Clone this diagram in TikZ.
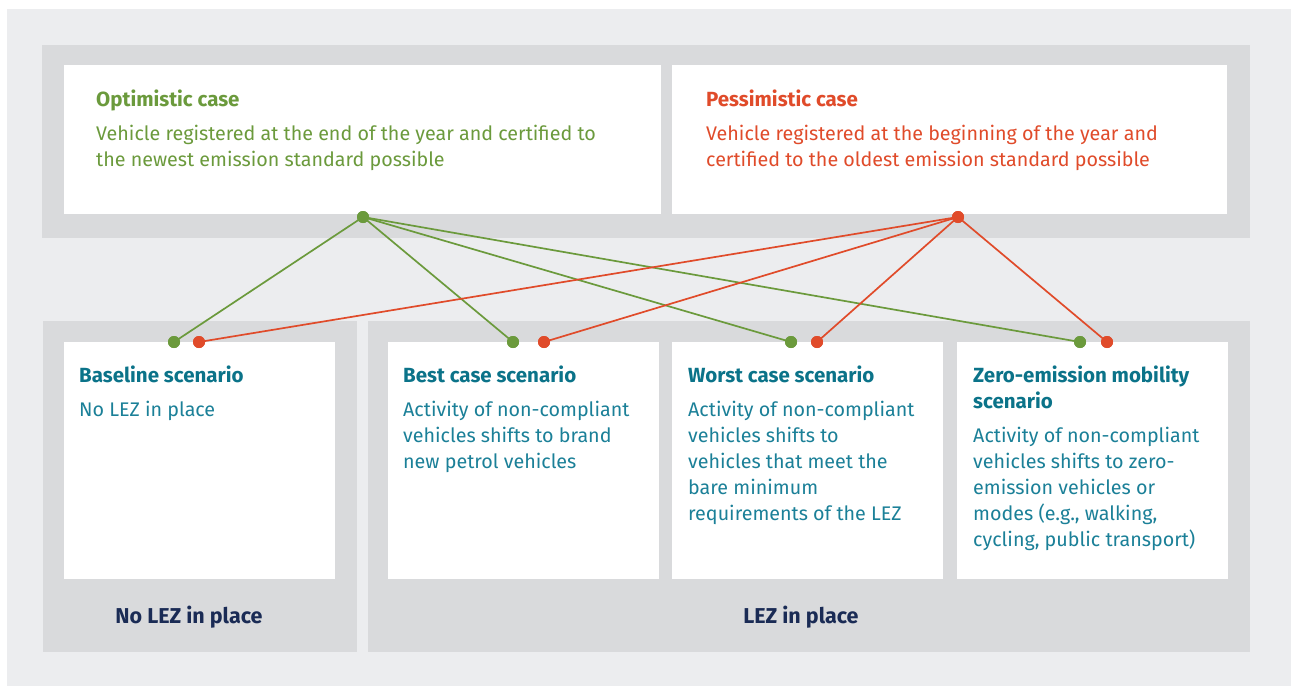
\documentclass[tikz,border=0pt]{standalone}
\usepackage{fontspec}
\setmainfont{Fira Sans}
\definecolor{bglight}{HTML}{ECEDEF}
\definecolor{band}{HTML}{D9DADC}
\definecolor{optgreen}{HTML}{6B9A3C}
\definecolor{pesred}{HTML}{E04B2A}
\definecolor{tealhead}{HTML}{0B7389}
\definecolor{tealbody}{HTML}{1B8098}
\definecolor{navy}{HTML}{1A2B55}
\tikzset{
  panel/.style={fill=white, draw=none},
  txt/.style={anchor=north west, inner sep=0pt, align=left, font=\fontsize{19.7}{26}\selectfont},
  headtxt/.style={txt, font=\fontsize{20.5}{26}\selectfont\bfseries},
  dotg/.style={circle, fill=optgreen, inner sep=0pt, minimum size=12pt},
  dotr/.style={circle, fill=pesred, inner sep=0pt, minimum size=12pt},
  gline/.style={draw=optgreen, line width=1.7pt},
  rline/.style={draw=pesred, line width=1.7pt},
  grouplabel/.style={anchor=base, inner sep=0pt, text=navy, font=\fontsize{21.5}{24}\selectfont\bfseries}
}
\begin{document}
\begin{tikzpicture}[x=1pt,y=-1pt]
\useasboundingbox (0,0) rectangle (1298,688);
\fill[white] (0,0) rectangle (1298,688);
\fill[bglight] (7,9) rectangle (1291,686);
% bands
\fill[band] (42,45) rectangle (1250,238);
\fill[band] (43,321) rectangle (357,652);
\fill[band] (368,321) rectangle (1250,652);
% white panels
\fill[panel] (64,65) rectangle (661,214);
\fill[panel] (672,65) rectangle (1227,214);
\fill[panel] (64,342) rectangle (335,579);
\fill[panel] (388,342) rectangle (659,579);
\fill[panel] (672,342) rectangle (943,579);
\fill[panel] (957,342) rectangle (1228,579);
% top texts
\node[headtxt, text=optgreen] (opth) at (96,89.5) {Optimistic case};
\node[txt, text=optgreen] (optb) at (96,124.5) {Vehicle registered at the end of the year and certified to\\the newest emission standard possible};
\node[headtxt, text=pesred] (pesh) at (706,89.5) {Pessimistic case};
\node[txt, text=pesred] (pesb) at (706,124.5) {Vehicle registered at the beginning of the year and\\certified to the oldest emission standard possible};
% bottom texts
\node[headtxt, text=tealhead] (baseh) at (79,366) {Baseline scenario};
\node[txt, text=tealbody] (baseb) at (79,401) {No LEZ in place};
\node[headtxt, text=tealhead] (besth) at (403,366) {Best case scenario};
\node[txt, text=tealbody] (bestb) at (403,401) {Activity of non-compliant\\vehicles shifts to brand\\new petrol vehicles};
\node[headtxt, text=tealhead] (worsth) at (688,366) {Worst case scenario};
\node[txt, text=tealbody] (worstb) at (688,401) {Activity of non-compliant\\vehicles shifts to\\vehicles that meet the\\bare minimum\\requirements of the LEZ};
\node[headtxt, text=tealhead] (zeroh) at (973,366) {Zero-emission mobility\\scenario};
\node[txt, text=tealbody] (zerob) at (973,427) {Activity of non-compliant\\vehicles shifts to zero-\\emission vehicles or\\modes (e.g., walking,\\cycling, public transport)};
% group labels
\node[grouplabel] (nolez) at (189,623) {No LEZ in place};
\node[grouplabel] (lez) at (801,623) {LEZ in place};
% dots
\node[dotg] (gt) at (363,217) {};
\node[dotr] (rt) at (958,217) {};
\node[dotg] (g1) at (174,342) {};
\node[dotr] (r1) at (199,342) {};
\node[dotg] (g2) at (513,342) {};
\node[dotr] (r2) at (544,342) {};
\node[dotg] (g3) at (791,342) {};
\node[dotr] (r3) at (817,342) {};
\node[dotg] (g4) at (1080,342) {};
\node[dotr] (r4) at (1107,342) {};
% connectors
\foreach \t in {g1,g2,g3,g4} \draw[gline] (gt.center) -- (\t.center);
\foreach \t in {r1,r2,r3,r4} \draw[rline] (rt.center) -- (\t.center);
% redraw dots on top of the connectors
\foreach \n in {gt,g1,g2,g3,g4} \fill[optgreen] (\n.center) circle (6);
\foreach \n in {rt,r1,r2,r3,r4} \fill[pesred] (\n.center) circle (6);
\end{tikzpicture}
\end{document}
